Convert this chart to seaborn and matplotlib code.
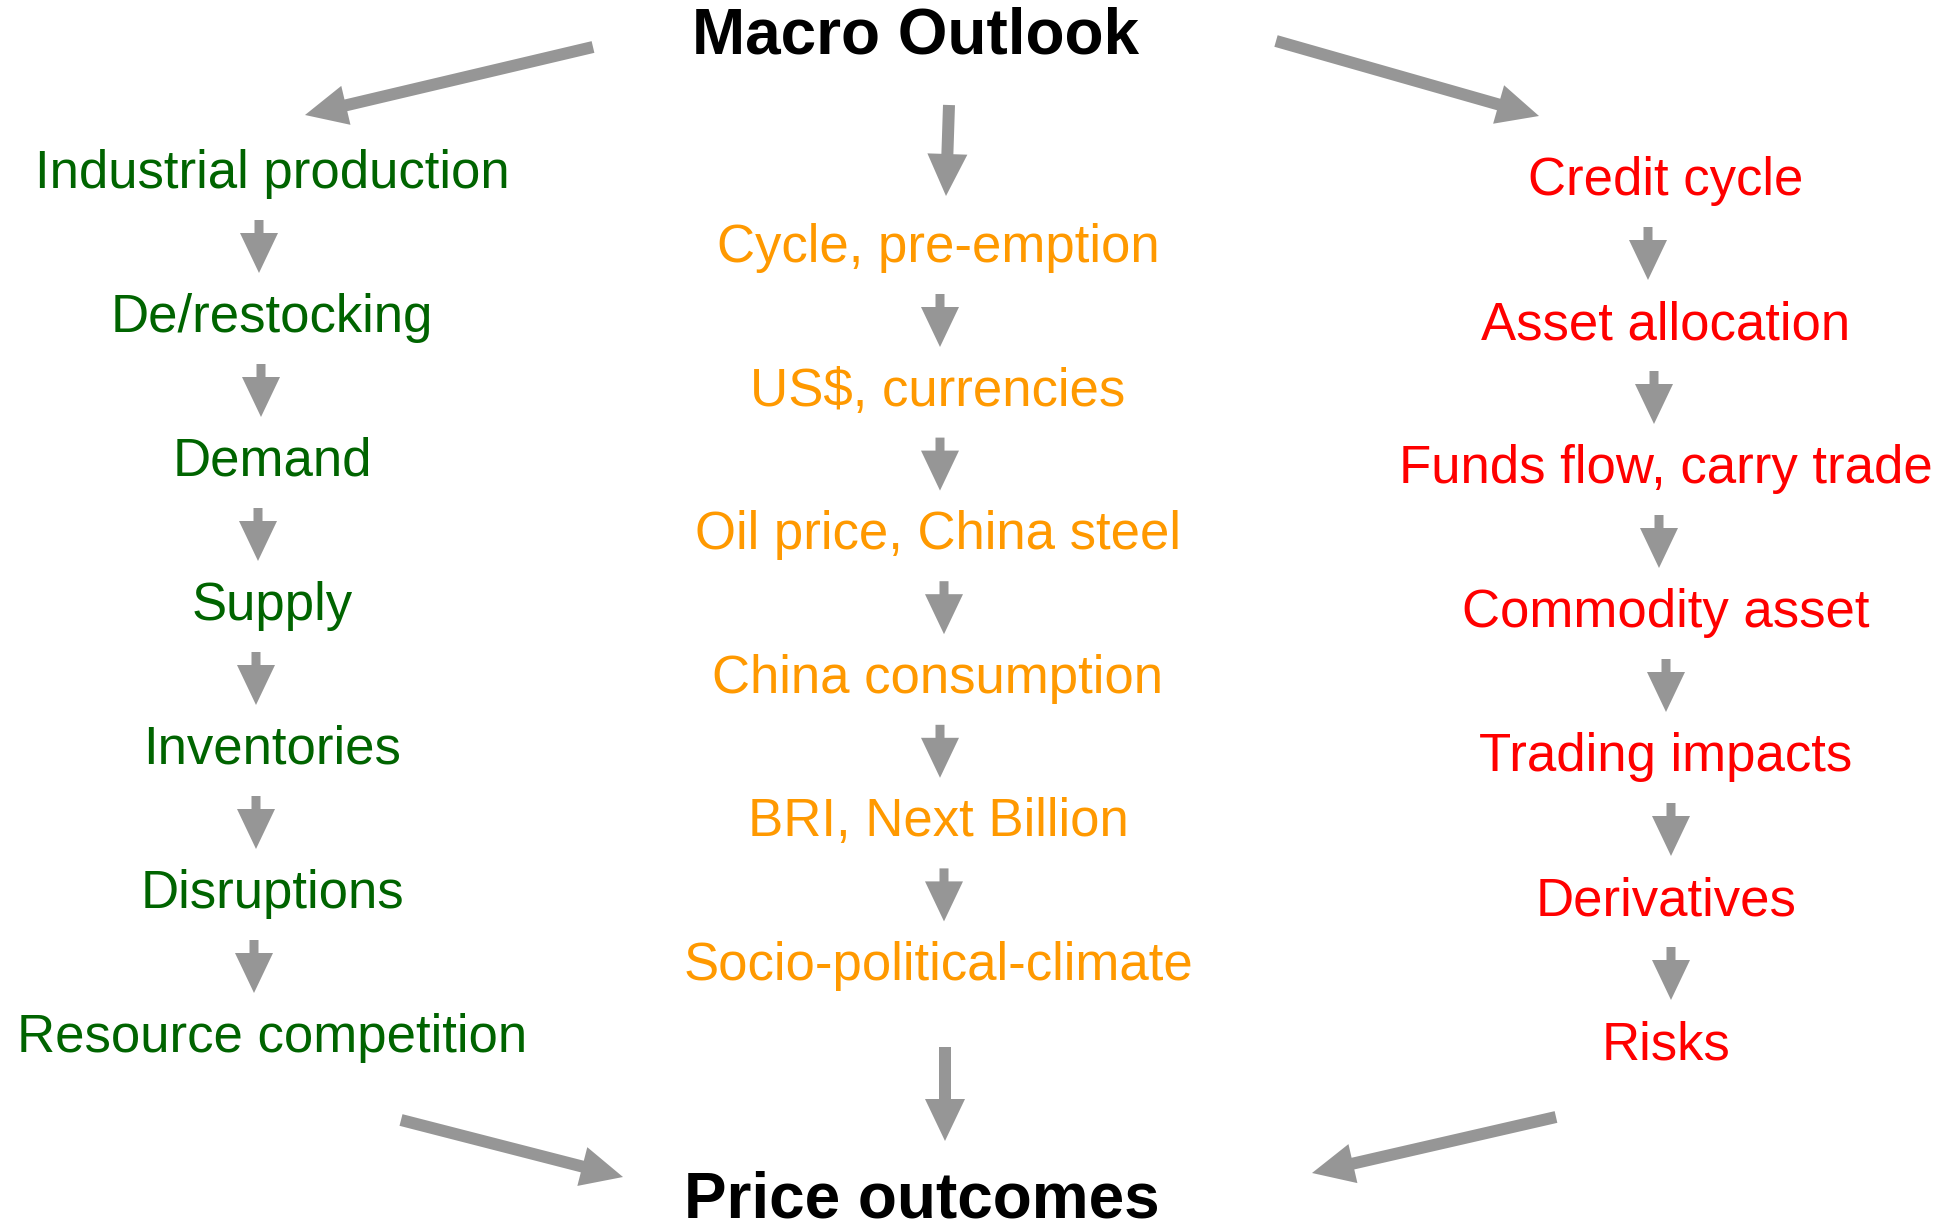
import matplotlib
matplotlib.use('Agg')
import matplotlib.pyplot as plt
import seaborn as sns

# Labels of the three driver chains
left_labels = ['Industrial production', 'De/restocking', 'Demand', 'Supply',
               'Inventories', 'Disruptions', 'Resource competition']
middle_labels = ['Cycle, pre-emption', 'US$, currencies', 'Oil price, China steel',
                 'China consumption', 'BRI, Next Billion', 'Socio-political-climate']
right_labels = ['Credit cycle', 'Asset allocation', 'Funds flow, carry trade',
                'Commodity asset', 'Trading impacts', 'Derivatives', 'Risks']
top_label = 'Macro Outlook'
bottom_label = 'Price outcomes'

# Layout (pixel space of the 1955x1228 figure)
W, H = 1955, 1228
columns = [
    # labels, text x, first y, step, arrow x per step, colour
    (left_labels, 272, 174, 144.0, [259, 261, 258, 256, 256, 254], '#006400'),
    (middle_labels, 938, 248, 143.6, [940, 940, 944, 940, 944], '#FF9900'),
    (right_labels, 1666, 181, 144.0, [1648, 1654, 1659, 1666, 1671, 1671], '#FF0000'),
]
big_arrows = [
    ((593, 47), (305, 115)),
    ((949, 105), (946, 196)),
    ((1276, 41), (1539, 116)),
    ((401, 1120), (623, 1177)),
    ((945, 1047), (945, 1141)),
    ((1556, 1117), (1312, 1173)),
]
GREY = '#969696'

sns.set_theme(style='white')
plt.rcParams['font.family'] = ['Liberation Sans', 'DejaVu Sans']

fig = plt.figure(figsize=(W / 100, H / 100), dpi=100)
ax = fig.add_axes([0, 0, 1, 1])
ax.set_xlim(0, W)
ax.set_ylim(H, 0)
ax.axis('off')

ax.text(916, 53, top_label, fontsize=46, fontweight='bold', color='black',
        ha='center', va='baseline')
ax.text(922, 1218, bottom_label, fontsize=46, fontweight='bold', color='black',
        ha='center', va='baseline')

for labels, x, y0, step, arrow_x, colour in columns:
    for i, lab in enumerate(labels):
        y = y0 + i * step
        ax.text(x, y, lab, fontsize=38, color=colour, ha='center', va='center')
        if i < len(labels) - 1:
            ax.arrow(arrow_x[i], y + 46, 0, 53, width=9, head_width=38,
                     head_length=40, length_includes_head=True,
                     color=GREY, linewidth=0)

for (x0, y0), (x1, y1) in big_arrows:
    ax.arrow(x0, y0, x1 - x0, y1 - y0, width=12, head_width=40,
             head_length=42, length_includes_head=True, color=GREY, linewidth=0)

fig.savefig('out.png', dpi=100, facecolor='white')
